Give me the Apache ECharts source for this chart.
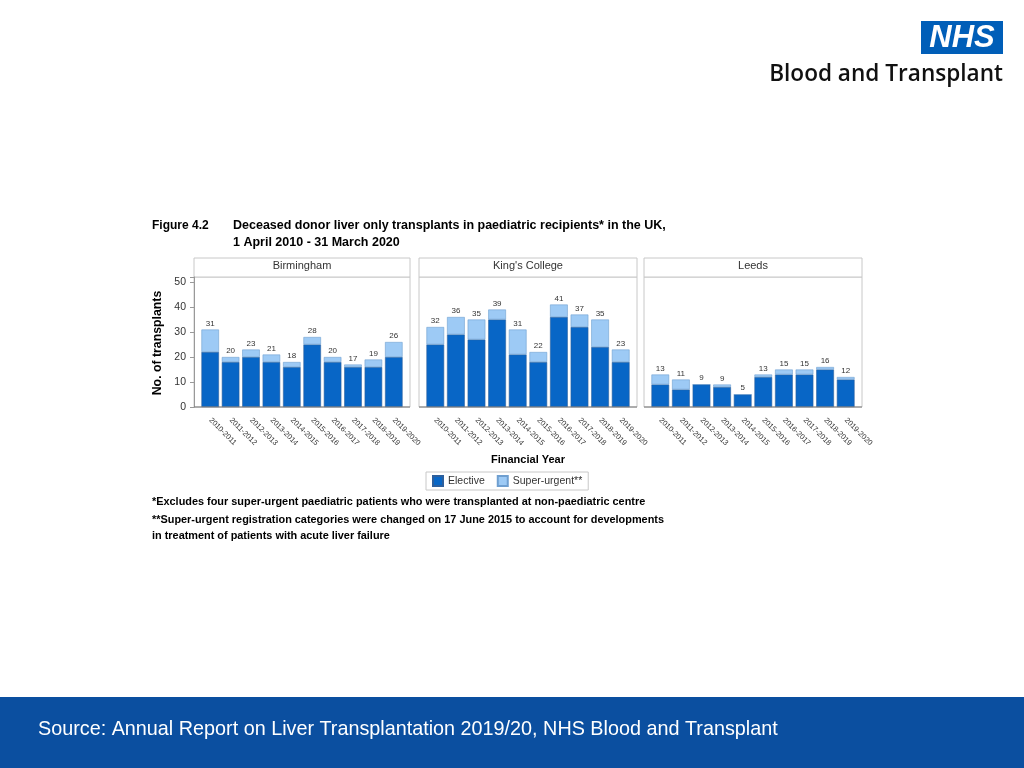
<!DOCTYPE html>
<html>
<head>
<meta charset="utf-8">
<script src="https://cdn.jsdelivr.net/npm/echarts@6/dist/echarts.min.js"></script>
<style>
html,body{margin:0;padding:0;background:#fff;}
#chart{width:1024px;height:768px;}
</style>
</head>
<body>
<div id="chart"></div>
<script>
var categories = ['2010-2011','2011-2012','2012-2013','2013-2014','2014-2015','2015-2016','2016-2017','2017-2018','2018-2019','2019-2020'];
var centres = ['Birmingham', "King's College", 'Leeds'];
var birminghamElective = [22,18,20,18,16,25,18,16,16,20];
var birminghamSuperUrgent = [9,2,3,3,2,3,2,1,3,6];
var kingsElective = [25,29,27,35,21,18,36,32,24,18];
var kingsSuperUrgent = [7,7,8,4,10,4,5,5,11,5];
var leedsElective = [9,7,9,8,5,12,13,13,15,11];
var leedsSuperUrgent = [4,4,0,1,0,1,2,2,1,1];
var yTicks = [0,10,20,30,40,50];

var electiveSets = [birminghamElective, kingsElective, leedsElective];
var superSets = [birminghamSuperUrgent, kingsSuperUrgent, leedsSuperUrgent];

var FONT = "'Liberation Sans', Arial, sans-serif";
var panelLeft = [194, 419, 644];
var panelWidth = [216, 218, 218];
var inset = 6;
var plotTop = 277, plotHeight = 130;

var grids = [], xAxes = [], yAxes = [], series = [], graphics = [];

for (var i = 0; i < 3; i++) {
  grids.push({left: panelLeft[i] + inset, top: plotTop, width: panelWidth[i] - 2 * inset, height: plotHeight, show: false});
  xAxes.push({type: 'category', gridIndex: i, data: categories,
    axisLine: {show: false},
    axisTick: {alignWithLabel: true, length: 4, lineStyle: {color: '#999'}},
    axisLabel: {rotate: -45, fontSize: 7.5, color: '#333', margin: 12, fontFamily: FONT, interval: 0}
  });
  yAxes.push({type: 'value', gridIndex: i, min: 0, max: 52, interval: 10, offset: inset,
    splitLine: {show: false},
    axisLine: {show: i === 0, lineStyle: {color: '#999'}},
    axisTick: {show: i === 0, length: 4, lineStyle: {color: '#999'}},
    axisLabel: {show: i === 0, fontSize: 10.5, color: '#333', margin: 8, fontFamily: FONT,
      formatter: function (v) { return yTicks.indexOf(v) >= 0 ? String(v) : ''; }}
  });
  (function (idx) {
    series.push({name: 'Elective', type: 'bar', stack: 's' + idx, xAxisIndex: idx, yAxisIndex: idx,
      data: electiveSets[idx], barCategoryGap: '14%',
      itemStyle: {color: '#0866c6', borderColor: '#2d5f9c', borderWidth: 0.6}
    });
    series.push({name: 'Super-urgent**', type: 'bar', stack: 's' + idx, xAxisIndex: idx, yAxisIndex: idx,
      data: superSets[idx], barCategoryGap: '14%',
      itemStyle: {color: '#9dcaf5', borderColor: '#6f9fd0', borderWidth: 0.6},
      label: {show: true, position: 'top', distance: 2, fontSize: 8, color: '#333', fontFamily: FONT,
        formatter: function (p) { return String(electiveSets[idx][p.dataIndex] + superSets[idx][p.dataIndex]); }}
    });
  })(i);
  // panel frame and strip header
  graphics.push({type: 'rect', z: 0, shape: {x: panelLeft[i], y: plotTop, width: panelWidth[i], height: plotHeight},
    style: {fill: null, stroke: '#c8c8c8', lineWidth: 1}});
  graphics.push({type: 'line', z: 10, shape: {x1: panelLeft[i], y1: plotTop + plotHeight, x2: panelLeft[i] + panelWidth[i], y2: plotTop + plotHeight},
    style: {stroke: '#777', lineWidth: 1}});
  graphics.push({type: 'rect', shape: {x: panelLeft[i], y: 258, width: panelWidth[i], height: 19},
    style: {fill: '#fff', stroke: '#c8c8c8', lineWidth: 1}});
  graphics.push({type: 'text', x: panelLeft[i] + panelWidth[i] / 2, y: 265.5,
    style: {text: centres[i], fontSize: 11, fill: '#333', fontFamily: FONT, align: 'center', verticalAlign: 'middle'}});
}

// titles
graphics.push({type: 'text', x: 152, y: 226, style: {text: 'Figure 4.2', fontSize: 12, fontWeight: 'bold', fill: '#000', fontFamily: FONT, verticalAlign: 'middle'}});
graphics.push({type: 'text', x: 233, y: 226, style: {text: 'Deceased donor liver only transplants in paediatric recipients* in the UK,', fontSize: 12.5, fontWeight: 'bold', fill: '#000', fontFamily: FONT, verticalAlign: 'middle'}});
graphics.push({type: 'text', x: 233, y: 243, style: {text: '1 April 2010 - 31 March 2020', fontSize: 12.5, fontWeight: 'bold', fill: '#000', fontFamily: FONT, verticalAlign: 'middle'}});
// y axis name
graphics.push({type: 'text', x: 158, y: 343, rotation: Math.PI / 2, style: {text: 'No. of transplants', fontSize: 12.3, fontWeight: 'bold', fill: '#000', fontFamily: FONT, align: 'center', verticalAlign: 'middle'}});
// x axis name
graphics.push({type: 'text', x: 528, y: 460, style: {text: 'Financial Year', fontSize: 11, fontWeight: 'bold', fill: '#000', fontFamily: FONT, align: 'center', verticalAlign: 'middle'}});
// footnotes
var notes = ['*Excludes four super-urgent paediatric patients who were transplanted at non-paediatric centre',
  '**Super-urgent registration categories were changed on 17 June 2015 to account for developments',
  'in treatment of patients with acute liver failure'];
var noteY = [502, 520, 536];
for (var n = 0; n < notes.length; n++) {
  graphics.push({type: 'text', x: 152, y: noteY[n], style: {text: notes[n], fontSize: 10.9, fontWeight: 'bold', fill: '#000', fontFamily: FONT, verticalAlign: 'middle'}});
}
// logo
graphics.push({type: 'rect', shape: {x: 921, y: 21, width: 82, height: 33}, style: {fill: '#005eb8'}});
graphics.push({type: 'text', x: 962, y: 38, style: {text: 'NHS', fontSize: 31, fontWeight: 'bold', fontStyle: 'italic', fill: '#fff', fontFamily: FONT, align: 'center', verticalAlign: 'middle'}});
graphics.push({type: 'text', x: 1003, y: 75, style: {text: 'Blood and Transplant', fontSize: 22.6, fontWeight: 600, fill: '#111', fontFamily: "'Open Sans', 'Liberation Sans', sans-serif", align: 'right', verticalAlign: 'middle'}});
// banner
graphics.push({type: 'rect', shape: {x: 0, y: 697, width: 1024, height: 71}, style: {fill: '#0b4fa0'}});
graphics.push({type: 'text', x: 38, y: 730, style: {text: 'Source: Annual Report on Liver Transplantation 2019/20, NHS Blood and Transplant', fontSize: 19.8, fill: '#fff', fontFamily: FONT, verticalAlign: 'middle'}});

var chart = echarts.init(document.getElementById('chart'), null, {renderer: 'canvas'});
chart.setOption({
  animation: false,
  backgroundColor: '#fff',
  legend: {left: 426, top: 472, padding: [3, 6], borderColor: '#c8c8c8', borderWidth: 1,
    itemWidth: 10, itemHeight: 10, itemGap: 12, icon: 'rect',
    data: ['Elective', 'Super-urgent**'],
    textStyle: {fontSize: 10.5, color: '#333', fontFamily: FONT}},
  grid: grids,
  xAxis: xAxes,
  yAxis: yAxes,
  series: series,
  graphic: graphics
});
</script>
</body>
</html>
